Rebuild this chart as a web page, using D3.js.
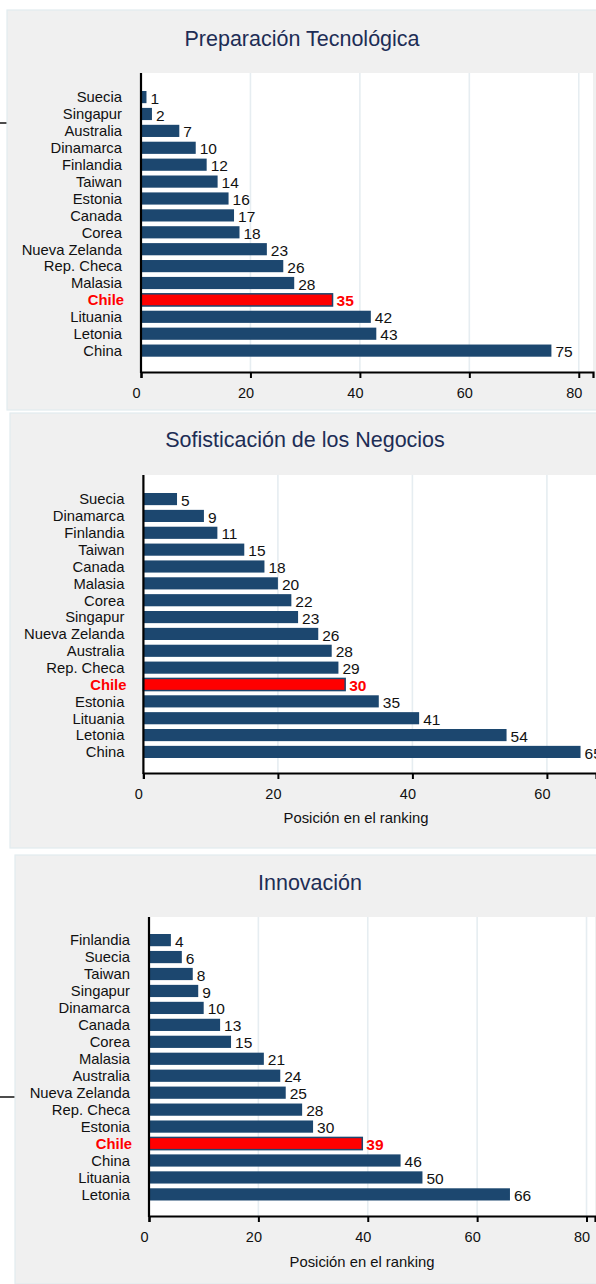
<!DOCTYPE html>
<html><head><meta charset="utf-8">
<script src="https://cdn.jsdelivr.net/npm/d3@7"></script>
<style>
html,body{margin:0;padding:0;background:#fff;}
svg{display:block;font-family:"Liberation Sans",Arial,sans-serif;}
</style></head>
<body>
<svg id="c" width="596" height="1284"></svg>
<script>
// ---- data ----
const titles = ["Preparación Tecnológica", "Sofisticación de los Negocios", "Innovación"];
const axisTitle = "Posición en el ranking";

const cats1 = ["Suecia","Singapur","Australia","Dinamarca","Finlandia","Taiwan","Estonia","Canada","Corea","Nueva Zelanda","Rep. Checa","Malasia","Chile","Lituania","Letonia","China"];
const vals1 = [1,2,7,10,12,14,16,17,18,23,26,28,35,42,43,75];

const cats2 = ["Suecia","Dinamarca","Finlandia","Taiwan","Canada","Malasia","Corea","Singapur","Nueva Zelanda","Australia","Rep. Checa","Chile","Estonia","Lituania","Letonia","China"];
const vals2 = [5,9,11,15,18,20,22,23,26,28,29,30,35,41,54,65];

const cats3 = ["Finlandia","Suecia","Taiwan","Singapur","Dinamarca","Canada","Corea","Malasia","Australia","Nueva Zelanda","Rep. Checa","Estonia","Chile","China","Lituania","Letonia"];
const vals3 = [4,6,8,9,10,13,15,21,24,25,28,30,39,46,50,66];

const ticks1 = [0,20,40,60,80];
const ticks2 = [0,20,40,60];
const ticks3 = [0,20,40,60,80];

const highlight = "Chile";

// ---- layout per panel ----
const panels = [
  {title:titles[0], cats:cats1, vals:vals1, ticks:ticks1, xTitle:false,
   box:[7,10,596,410], titleX:302, titleY:46,
   plot:[141,73,593,372], xmax:82.6, band:[91,356.7]},
  {title:titles[1], cats:cats2, vals:vals2, ticks:ticks2, xTitle:true,
   box:[10,413,596,848], titleX:305, titleY:447,
   plot:[143.4,475,596,773], xmax:67.3, band:[493,758], xTitleX:356, xTitleY:823},
  {title:titles[2], cats:cats3, vals:vals3, ticks:ticks3, xTitle:true,
   box:[15,855,596,1284], titleX:310, titleY:890,
   plot:[149,917,595,1216], xmax:81.55, band:[934,1200.5], xTitleX:362, xTitleY:1267}
];

const svg = d3.select("#c");
const navy = "#1c476f";

// stray document lines
svg.append("line").attr("x1",0).attr("x2",7).attr("y1",123).attr("y2",123).attr("stroke","#111").attr("stroke-width",1.5);
svg.append("line").attr("x1",0).attr("x2",15).attr("y1",1097).attr("y2",1097).attr("stroke","#111").attr("stroke-width",1.5);

panels.forEach(p => {
  const g = svg.append("g");
  const [bx0,by0,bx1,by1] = p.box;
  g.append("rect").attr("x",bx0).attr("y",by0).attr("width",bx1-bx0+2).attr("height",by1-by0)
    .attr("fill","#f0f0f0").attr("stroke","#e2ebef").attr("stroke-width",1.2);

  const [px0,py0,px1,py1] = p.plot;
  g.append("rect").attr("x",px0).attr("y",py0).attr("width",px1-px0).attr("height",py1-py0).attr("fill","#fff");

  const x = d3.scaleLinear().domain([0,p.xmax]).range([px0,px1]);
  const y = d3.scaleBand().domain(p.cats).range(p.band).paddingInner(0.28).paddingOuter(0);

  // grid
  g.selectAll(".grid").data(p.ticks.filter(t=>t>0)).join("line")
    .attr("x1",d=>x(d)).attr("x2",d=>x(d)).attr("y1",py0).attr("y2",py1)
    .attr("stroke","#e6edf1").attr("stroke-width",1.6);

  // title
  g.append("text").attr("x",p.titleX).attr("y",p.titleY).attr("text-anchor","middle")
    .attr("font-size",21.5).attr("fill","#1d2d55").text(p.title);

  // bars
  const data = p.cats.map((c,i)=>({c, v:p.vals[i]}));
  g.selectAll(".bar").data(data).join("rect")
    .attr("x",x(0)).attr("y",d=>y(d.c))
    .attr("width",d=>x(d.v)-x(0)).attr("height",y.bandwidth())
    .attr("fill",d=>d.c===highlight?"#ff0000":navy)
    .attr("stroke",d=>d.c===highlight?navy:"none")
    .attr("stroke-width",1.5);

  // value labels
  g.selectAll(".vl").data(data).join("text")
    .attr("x",d=>x(d.v)+4).attr("y",d=>y(d.c)+y.bandwidth()/2+1)
    .attr("dy","0.36em").attr("font-size",15.5)
    .attr("fill",d=>d.c===highlight?"#ff0000":"#111")
    .attr("font-weight",d=>d.c===highlight?"bold":"normal")
    .text(d=>d.v);

  // category labels
  g.selectAll(".cl").data(data).join("text")
    .attr("x",d=>px0-19 + (d.c===highlight?2:0)).attr("y",d=>y(d.c)+y.bandwidth()/2)
    .attr("dy","0.36em").attr("text-anchor","end").attr("font-size",14.8)
    .attr("fill",d=>d.c===highlight?"#ff0000":"#111")
    .attr("font-weight",d=>d.c===highlight?"bold":"normal")
    .text(d=>d.c);

  // x axis
  const ax = g.append("g").attr("transform",`translate(0,${py1})`)
    .call(d3.axisBottom(x).tickValues(p.ticks).tickSizeOuter(0).tickSize(6).tickPadding(5));
  ax.select(".domain").attr("stroke","#000").attr("stroke-width",2.2);
  ax.selectAll(".tick line").attr("stroke","#000").attr("stroke-width",2);
  ax.selectAll(".tick text").attr("font-size",14.5).attr("fill","#111")
    .attr("font-family","'Liberation Sans',Arial,sans-serif").attr("dx",-5).attr("dy","1.02em");

  // y axis line
  g.append("line").attr("x1",px0).attr("x2",px0).attr("y1",py0).attr("y2",py1+1)
    .attr("stroke","#000").attr("stroke-width",2.2);

  if (p.xTitle) {
    g.append("text").attr("x",p.xTitleX).attr("y",p.xTitleY).attr("text-anchor","middle")
      .attr("font-size",14.8).attr("fill","#111").text(axisTitle);
  }
});
</script>
</body></html>
